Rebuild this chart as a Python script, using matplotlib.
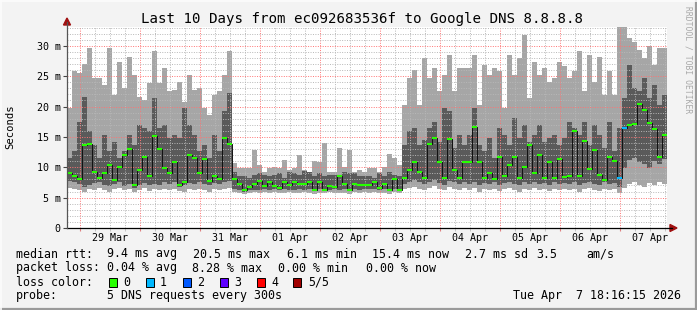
import numpy as np
import matplotlib
matplotlib.use("Agg")
from matplotlib import pyplot as plt
import matplotlib.dates as mdates
from matplotlib.patches import Rectangle, Polygon
from datetime import datetime, timedelta

# 120 samples, 2 h each, rtt in ms (5 pings sorted: min, low, median, high, max)
start = datetime(2026, 3, 28, 18, 48)
step = timedelta(hours=2)

rtt_min = [6.6, 6.4, 6.2, 6.0, 6.5, 6.3, 6.6, 6.2, 6.0, 6.4, 6.6, 6.2, 6.5, 6.0, 6.3, 6.6, 6.1, 6.4, 6.2, 6.5,
           6.3, 6.5, 6.1, 6.0, 6.4, 6.2, 6.5, 6.3, 6.0, 6.4, 6.2, 6.5, 6.6, 5.9, 5.8, 5.6, 5.8, 5.9, 5.8, 5.9,
           5.8, 5.9, 5.7, 5.8, 5.9, 5.7, 5.8, 5.9, 5.8, 5.6, 5.8, 5.7, 5.9, 5.8, 5.7, 5.8, 5.6, 5.9, 5.8, 5.9,
           5.8, 5.9, 5.7, 5.8, 5.6, 5.9, 5.7, 6.4, 6.6, 6.8, 6.5, 6.3, 6.6, 6.9, 6.4, 6.2, 6.7, 6.5, 6.3, 6.6,
           6.3, 6.6, 6.0, 6.4, 6.2, 6.5, 6.1, 6.4, 6.6, 6.2, 6.0, 6.5, 6.3, 6.6, 6.2, 6.4, 6.1, 6.5, 6.3, 6.4,
           6.2, 6.5, 6.0, 6.4, 6.6, 6.3, 6.1, 6.5, 6.2, 6.4, 5.8, 6.6, 7.2, 7.6, 7.0, 6.8, 7.4, 7.1, 7.5, 7.2]
rtt_low = [7.8, 7.5, 7.2, 6.8, 7.0, 7.4, 7.6, 7.0, 6.9, 7.3, 7.5, 6.9, 7.3, 6.6, 7.1, 7.4, 7.0, 7.3, 7.1, 7.6,
           7.3, 7.5, 6.8, 7.0, 7.4, 7.2, 7.5, 7.3, 7.0, 7.4, 7.2, 7.6, 7.8, 6.5, 6.3, 6.0, 6.2, 6.3, 6.3, 6.4,
           6.3, 6.4, 6.2, 6.4, 6.3, 6.2, 6.4, 6.3, 6.5, 6.1, 6.4, 6.1, 6.3, 6.4, 6.3, 6.4, 6.1, 6.4, 6.3, 6.4,
           6.4, 6.5, 6.2, 6.4, 6.1, 6.5, 6.1, 7.3, 7.6, 7.9, 7.5, 7.2, 7.6, 7.9, 7.4, 7.1, 7.7, 7.5, 7.3, 7.6,
           7.3, 7.6, 7.1, 7.4, 7.2, 7.5, 7.1, 7.4, 7.6, 7.2, 7.0, 7.5, 7.3, 7.6, 7.2, 7.4, 7.1, 7.5, 7.3, 7.4,
           7.2, 7.5, 7.0, 7.4, 7.6, 7.3, 7.1, 7.5, 7.2, 7.4, 6.8, 9.8, 11.2, 11.5, 10.8, 10.6, 9.8, 11.0, 10.5, 11.3]
rtt_median = [9.0, 8.6, 8.0, 13.6, 13.8, 9.3, 8.3, 9.1, 10.3, 7.9, 10.1, 12.0, 13.0, 7.0, 9.5, 11.7, 8.6, 15.2, 13.0, 9.8,
              9.0, 10.9, 7.0, 7.6, 12.0, 11.6, 9.0, 11.3, 7.7, 8.6, 8.0, 14.9, 13.9, 8.0, 7.3, 6.3, 6.7, 7.2, 7.7, 6.9,
              7.6, 6.9, 6.6, 7.6, 7.1, 7.6, 7.2, 7.3, 7.6, 6.3, 7.6, 6.3, 6.9, 6.8, 8.6, 7.2, 6.3, 7.2, 7.0, 7.0,
              7.0, 7.6, 6.6, 7.3, 6.3, 8.0, 6.3, 8.2, 9.5, 10.8, 9.2, 8.2, 13.9, 14.8, 10.9, 8.2, 14.7, 9.5, 8.2, 10.9,
              10.8, 16.7, 10.9, 8.3, 9.0, 8.0, 11.7, 8.6, 10.4, 11.7, 8.3, 10.1, 13.7, 9.0, 12.1, 8.3, 10.9, 8.3, 11.3, 8.4,
              8.6, 15.9, 8.6, 14.3, 9.7, 12.9, 8.8, 7.9, 11.7, 11.1, 8.3, 16.5, 17.0, 17.1, 20.5, 19.5, 17.3, 16.3, 11.7, 15.3]
rtt_high = [11.5, 12.6, 17.5, 21.6, 15.9, 13.7, 11.5, 15.3, 12.6, 14.2, 11.5, 12.6, 15.3, 13.7, 17.0, 16.4, 15.9, 21.4, 16.4, 17.0,
            14.8, 15.3, 14.8, 19.7, 17.0, 15.3, 12.6, 13.7, 11.5, 15.3, 12.6, 19.2, 22.2, 9.3, 8.5, 8.5, 8.2, 8.7, 9.0, 8.7,
            8.5, 8.7, 9.0, 8.2, 9.3, 9.0, 8.7, 9.4, 9.3, 8.5, 9.0, 8.5, 8.7, 8.7, 8.8, 9.3, 9.0, 9.0, 8.5, 8.5,
            8.5, 8.2, 9.0, 8.5, 9.3, 8.7, 8.5, 13.7, 15.9, 16.4, 13.7, 14.5, 16.4, 17.5, 14.2, 19.7, 19.2, 13.1, 15.3, 13.7,
            15.3, 19.7, 13.7, 12.6, 14.8, 11.5, 16.4, 15.3, 13.7, 18.1, 14.8, 17.0, 14.2, 15.3, 17.0, 14.2, 14.8, 15.3, 13.7, 14.8,
            17.5, 16.4, 15.3, 17.5, 13.7, 17.0, 15.3, 13.1, 17.5, 12.6, 16.4, 21.4, 26.9, 23.0, 22.5, 24.7, 21.4, 23.6, 20.3, 21.9]
rtt_max = [19.7, 25.8, 25.5, 27.0, 29.6, 24.7, 24.7, 23.6, 29.6, 21.9, 27.4, 23.0, 28.2, 25.2, 21.6, 21.1, 23.8, 29.1, 23.8, 26.3,
           22.5, 22.7, 24.1, 20.8, 25.2, 22.7, 23.0, 19.7, 18.6, 21.9, 22.5, 25.2, 29.1, 10.7, 9.8, 9.8, 9.8, 12.9, 10.4, 9.3,
           9.8, 10.1, 9.8, 11.2, 9.6, 9.8, 12.0, 9.6, 9.3, 11.0, 10.9, 14.0, 9.3, 9.3, 13.1, 10.1, 12.9, 9.3, 9.6, 9.3,
           9.8, 9.8, 9.3, 10.1, 12.2, 11.5, 10.4, 20.3, 24.7, 26.0, 20.3, 28.0, 24.7, 26.3, 22.5, 25.2, 28.5, 22.5, 26.3, 26.3,
           26.3, 28.5, 20.3, 26.9, 25.2, 26.3, 25.8, 19.7, 28.5, 25.2, 28.0, 31.8, 21.4, 27.4, 25.2, 26.3, 24.1, 24.7, 27.4, 26.6,
           24.7, 25.8, 29.1, 22.5, 28.5, 24.1, 28.2, 21.9, 25.8, 21.9, 33.5, 33.5, 31.3, 30.7, 29.3, 28.0, 29.9, 26.9, 29.6, 29.6]
loss = [0, 0, 0, 0, 0, 0, 0, 0, 0, 0, 0, 0, 0, 0, 0, 0, 0, 0, 0, 0,
        0, 0, 0, 0, 0, 0, 0, 0, 0, 0, 0, 0, 0, 0, 0, 0, 0, 0, 0, 0,
        0, 0, 0, 0, 0, 0, 0, 0, 0, 0, 0, 0, 0, 0, 0, 0, 0, 0, 0, 0,
        0, 0, 0, 0, 0, 0, 0, 0, 0, 0, 0, 0, 0, 0, 0, 0, 0, 0, 0, 0,
        0, 0, 0, 0, 0, 0, 0, 0, 0, 0, 0, 0, 0, 0, 0, 0, 0, 0, 0, 0,
        0, 0, 0, 0, 0, 0, 0, 0, 0, 0, 1, 1, 0, 0, 0, 0, 0, 0, 0, 0]

loss_colors = ["#26ff00", "#00b8ff", "#0059ff", "#5e00ff", "#ff0000", "#a00000"]
loss_labels = ["0", "1", "2", "3", "4", "5/5"]
day_labels = ["29 Mar", "30 Mar", "31 Mar", "01 Apr", "02 Apr",
              "03 Apr", "04 Apr", "05 Apr", "06 Apr", "07 Apr"]

W, H = 697, 310
BG = "#f3f3f3"
MONO = "DejaVu Sans Mono"

fig = plt.figure(figsize=(W / 100, H / 100), dpi=100, facecolor=BG)
ax = fig.add_axes([67 / W, 1 - 228 / H, 600 / W, 201 / H])
ax.set_facecolor("white")

n = len(rtt_median)
t = [start + i * step for i in range(n + 1)]

def ext(v):
    return list(v) + [v[-1]]

# smoke
ax.fill_between(t, ext(rtt_min), ext(rtt_low), step="post", color="#a6a6a6", lw=0, zorder=1)
ax.fill_between(t, ext(rtt_low), ext(rtt_high), step="post", color="#5a5a5a", lw=0, zorder=1)
ax.fill_between(t, ext(rtt_high), ext(rtt_max), step="post", color="#a6a6a6", lw=0, zorder=1)

# median
ax.step(t, ext(rtt_median), where="post", color="#101010", lw=0.7, zorder=3)
for i in range(n):
    ax.hlines(rtt_median[i], t[i], t[i + 1], color=loss_colors[loss[i]], lw=1.5, zorder=4)

ax.set_xlim(t[0], t[-1])
ax.set_ylim(0, 33.1)

# grid
ax.xaxis.set_major_locator(mdates.DayLocator())
ax.xaxis.set_minor_locator(mdates.HourLocator(byhour=[6, 12, 18]))
ax.set_yticks([0, 5, 10, 15, 20, 25, 30])
ax.set_yticks(np.arange(1, 34), minor=True)
ax.set_axisbelow(False)
ax.grid(which="minor", color=(0.72, 0.72, 0.72, 0.45), lw=0.7, ls=(0, (1, 1.5)))
ax.grid(which="major", color=(1.0, 0.45, 0.45, 0.5), lw=0.7, ls=(0, (1, 1.5)))

ax.tick_params(axis="x", which="major", length=2.5, color="#e08080", labelbottom=False)
ax.tick_params(axis="x", which="minor", length=2, color="#bbbbbb", labelbottom=False)
ax.tick_params(axis="y", which="major", length=3, width=0.8, color="#444444", pad=1.5,
               labelsize=7.2, labelcolor="#000000")
ax.tick_params(axis="y", which="minor", length=0)
ax.set_yticklabels(["0", "5 m", "10 m", "15 m", "20 m", "25 m", "30 m"], family=MONO)

for s in ["top", "right", "left", "bottom"]:
    ax.spines[s].set_visible(False)

for k, lab in enumerate(day_labels):
    tx = datetime(2026, 3, 29, 12) + timedelta(days=k)
    ax.text(tx, -0.05, lab, transform=ax.get_xaxis_transform(), ha="center", va="center",
            family=MONO, fontsize=7.2)

# axes with arrows (pixel coords)
def px(x, y):
    return (x / W, 1 - y / H)

fig.add_artist(plt.Line2D([px(67, 0)[0], px(672, 0)[0]], [px(0, 228)[1]] * 2, color="#000000", lw=0.9))
fig.add_artist(plt.Line2D([px(67, 0)[0]] * 2, [px(0, 228)[1], px(0, 22)[1]], color="#555555", lw=0.9))
fig.add_artist(Polygon([px(670, 224.5), px(677, 228), px(670, 231.5)], closed=True, color="#a01010"))
fig.add_artist(Polygon([px(63.5, 25), px(67, 18), px(70.5, 25)], closed=True, color="#a01010"))

# texts
fig.text(362 / W, 1 - 19 / H, "Last 10 Days from ec092683536f to Google DNS 8.8.8.8",
         ha="center", va="center", family=MONO, fontsize=10.2)
fig.text(10 / W, 1 - 127 / H, "Seconds", rotation=90, ha="center", va="center",
         family=MONO, fontsize=7.6)
fig.text(688 / W, 1 - 60 / H, "RRDTOOL / TOBI OETIKER", rotation=270, ha="center", va="center",
         family=MONO, fontsize=5.8, color="#a8a8a8")

LF = 8.4
def leg(x, y, s):
    fig.text(x / W, 1 - y / H, s, ha="left", va="center", family=MONO, fontsize=LF)

leg(16, 254, "median rtt:")
leg(107, 254, "9.4 ms avg")
leg(193, 254, "20.5 ms max")
leg(287, 254, "6.1 ms min")
leg(372, 254, "15.4 ms now")
leg(465, 254, "2.7 ms sd")
leg(536, 254, "3.5")
leg(586, 254, "am/s")

leg(16, 268, "packet loss:")
leg(107, 268, "0.04 % avg")
leg(192, 268, "8.28 % max")
leg(278, 268, "0.00 % min")
leg(366, 268, "0.00 % now")

leg(16, 282, "loss color:")
box_x = [109, 146, 183, 220, 257, 293]
txt_x = [123, 160, 197, 234, 271, 308]
for c, bx, tx, lab in zip(loss_colors, box_x, txt_x, loss_labels):
    fig.add_artist(Rectangle(px(bx, 286.5), 8 / W, 9 / H, facecolor=c, edgecolor="#000000", lw=0.7))
    leg(tx, 282, lab)

leg(16, 296, "probe:")
leg(107, 296, "5 DNS requests every 300s")
leg(513, 296, "Tue Apr  7 18:16:15 2026")

# frame shade
fig.add_artist(plt.Line2D([0, 1], [1 - 309 / H] * 2, color="#9a9a9a", lw=1.6))
fig.add_artist(plt.Line2D([1 - 1 / W] * 2, [0, 1], color="#9a9a9a", lw=1.6))
fig.add_artist(plt.Line2D([0, 1], [1 - 0.5 / H] * 2, color="#fcfcfc", lw=1.2))
fig.add_artist(plt.Line2D([0.5 / W] * 2, [0, 1], color="#fcfcfc", lw=1.2))

fig.savefig("out.png", dpi=100, facecolor=BG)
